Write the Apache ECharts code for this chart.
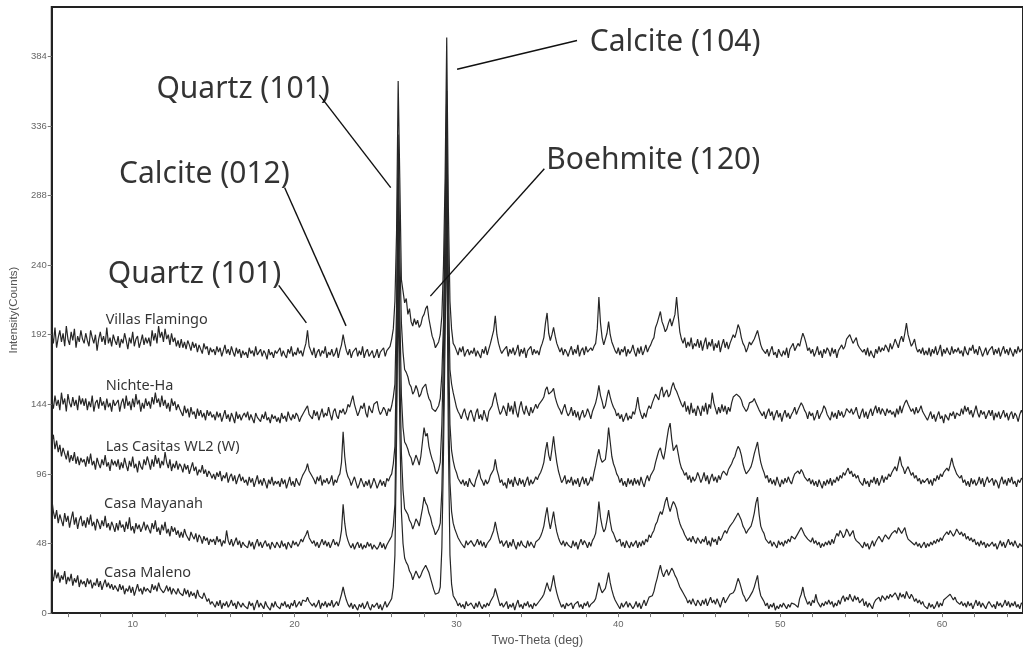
<!DOCTYPE html>
<html>
<head>
<meta charset="utf-8">
<script src="https://cdn.jsdelivr.net/npm/echarts@6/dist/echarts.min.js"></script>
<style>
  html, body { margin: 0; padding: 0; background: #fff; }
  #chart { width: 1023px; height: 652px; }
</style>
</head>
<body>
<div id="chart"></div>
<script>
// Scan grid: 2-theta from 5 to 65 deg in 0.1 deg steps (601 points per pattern)
const scanStart = 5;
const scanStep = 0.1;
const scanPoints = 601;

const sampleNames = ['Villas Flamingo', 'Nichte-Ha', 'Las Casitas WL2 (W)', 'Casa Mayanah', 'Casa Maleno'];

// Intensities (counts) as plotted in the stack, one row per 2 deg
const villasFlamingo = [
  192,186,197,183,190,195,187,193,184,198,189,185,194,188,196,183,191,187,195,189,
  186,193,188,184,195,190,186,192,181,189,194,187,191,185,197,186,190,184,192,188,
  185,191,183,189,186,193,188,182,190,186,194,184,189,191,183,187,192,185,190,186,
  190,184,195,188,193,186,198,190,194,187,196,189,192,185,193,187,190,184,188,183,
  189,183,187,182,188,185,181,187,183,186,180,185,184,179,186,182,184,178,183,180,
  182,178,184,180,183,177,181,185,179,182,178,184,180,177,183,179,182,176,181,178,
  180,176,183,179,181,177,184,178,180,182,177,181,179,175,182,178,180,176,181,179,
  179,183,177,181,178,176,182,179,184,177,180,178,183,179,181,177,182,186,195,184,
  181,178,183,176,180,182,177,181,179,184,176,180,178,182,177,179,183,176,181,185,
  192,186,181,178,182,176,180,179,183,177,181,178,184,176,180,182,177,179,181,176,
  178,182,176,180,179,183,177,181,180,184,189,196,215,262,367,300,230,222,214,217,
  206,210,201,198,203,199,202,197,199,204,206,210,212,203,197,191,188,183,185,187,
  192,205,240,300,397,280,215,196,186,184,181,178,183,180,184,177,180,182,178,181,
  179,183,177,181,180,176,182,179,184,178,182,186,187,195,205,192,186,182,179,181,
  180,184,177,182,179,183,178,181,185,177,182,179,183,176,181,180,184,178,182,179,
  181,178,183,186,190,200,207,193,188,192,197,191,186,183,180,183,178,182,180,177,
  181,184,178,182,179,185,177,181,183,178,184,180,179,183,181,184,186,196,218,200,
  190,185,186,193,201,192,187,184,181,179,183,178,182,180,184,177,182,179,181,185,
  180,177,183,179,184,178,181,185,180,183,185,188,190,197,200,204,208,201,198,194,
  196,200,203,198,199,206,218,205,194,189,186,190,183,187,184,190,182,186,184,189,
  183,188,181,186,190,182,187,184,189,181,186,183,188,180,185,189,183,187,182,186,
  186,192,190,194,199,196,190,186,184,180,183,187,185,186,189,192,195,190,185,182,
  183,179,182,177,181,184,178,180,176,182,179,177,181,178,183,176,182,184,186,181,
  182,186,184,189,193,190,186,181,183,179,182,177,180,184,178,181,176,182,179,183,
  181,177,183,179,182,176,181,183,185,182,184,189,188,192,191,186,188,190,185,183,
  184,180,182,178,183,177,181,178,176,182,179,184,180,183,181,185,183,180,186,182,
  185,189,186,183,188,191,187,193,200,192,188,184,186,189,183,180,182,179,183,178,
  181,178,183,177,182,179,184,178,181,185,177,182,179,183,180,178,184,179,182,180,
  183,179,181,177,184,180,178,183,181,185,179,182,178,184,181,177,180,183,178,181,
  180,184,178,182,179,183,177,181,184,179,182,178,183,180,177,182,179,184,180,182,
  181
];

const nichteHa = [
  146,141,150,143,147,140,152,144,148,139,151,145,142,149,143,147,140,150,144,148,
  143,148,140,146,142,150,139,145,147,141,149,143,146,140,148,142,145,139,147,143,
  142,147,139,145,148,141,150,143,146,140,148,142,151,144,147,139,145,141,148,143,
  146,141,149,144,152,145,148,142,150,143,147,141,145,139,148,143,146,140,144,141,
  140,136,143,138,141,135,142,137,139,134,141,136,140,135,138,133,140,136,139,135,
  137,133,139,135,138,132,136,140,134,137,132,138,135,131,139,134,137,133,136,138,
  135,139,133,137,134,131,138,135,136,132,137,134,139,133,135,131,137,134,136,132,
  135,131,138,134,136,132,139,135,133,137,134,138,136,132,135,137,139,141,143,137,
  138,134,140,136,139,133,137,141,135,138,136,142,137,133,139,141,136,134,140,138,
  141,137,139,144,142,146,150,144,140,136,139,143,141,145,138,135,143,140,138,144,
  143,146,140,137,139,142,140,136,141,139,143,149,158,210,330,250,200,180,168,166,
  163,158,156,151,153,157,154,149,151,155,156,158,152,148,146,141,142,139,140,143,
  148,165,200,270,360,230,168,158,152,147,142,139,137,134,138,141,136,133,138,140,
  136,132,138,141,134,137,133,140,136,132,139,141,143,148,152,146,141,137,139,143,
  140,136,145,139,143,137,146,139,135,142,146,140,137,143,139,136,142,138,141,144,
  141,144,145,147,149,154,156,151,150,153,155,149,145,142,140,137,141,144,139,136,
  138,142,136,140,135,139,133,137,140,135,137,141,138,134,139,142,145,150,157,150,
  146,141,143,149,154,149,145,142,140,136,138,134,137,132,135,138,133,136,134,139,
  137,142,149,141,137,134,138,135,140,143,141,145,146,151,150,147,153,156,149,152,
  154,149,151,156,159,155,153,150,147,144,142,146,139,143,137,145,138,141,136,143,
  140,136,143,139,145,137,144,141,152,145,141,137,142,138,144,139,143,137,142,139,
  145,149,148,151,152,149,147,143,143,139,141,145,144,146,148,145,144,140,140,136,
  139,134,138,141,136,139,133,137,140,135,138,132,137,140,135,138,134,137,139,142,
  137,140,141,145,143,140,138,134,139,136,138,133,136,140,134,137,139,143,141,137,
  137,133,139,135,138,134,140,136,139,135,137,141,140,138,141,137,139,142,137,134,
  138,141,135,139,134,138,141,136,140,143,138,142,137,141,139,136,141,138,140,137,
  139,135,141,137,143,138,142,145,147,144,143,139,141,137,142,138,140,143,139,137,
  137,133,136,139,134,137,132,136,139,134,136,131,137,135,133,138,136,139,134,138,
  139,136,141,137,143,139,142,137,140,135,139,143,138,135,140,137,139,134,137,140,
  136,140,133,138,135,139,134,137,140,135,138,133,137,139,134,138,136,132,137,140,
  137
];

const lasCasitas = [
  118,123,113,119,111,116,108,114,110,106,112,104,109,105,111,103,108,102,107,104,
  106,101,108,103,110,102,105,99,107,103,100,106,102,109,101,104,98,106,102,105,
  101,106,99,104,100,107,102,98,105,101,108,100,103,97,105,101,99,106,102,108,
  104,99,106,101,109,103,107,100,105,102,111,104,100,106,98,103,100,105,99,103,
  101,97,103,99,102,96,100,104,98,101,95,99,97,102,96,99,94,98,96,93,
  96,92,97,94,98,91,95,93,97,90,94,96,91,95,89,93,96,91,94,90,
  92,88,94,90,93,87,91,95,89,92,88,93,90,86,92,89,94,88,91,89,
  91,87,93,89,92,86,90,94,88,91,87,93,90,88,92,95,97,99,103,98,
  97,94,92,89,94,91,95,88,92,90,93,89,91,95,88,92,90,94,96,104,
  125,108,98,94,92,88,91,94,90,86,89,93,90,87,91,88,92,86,89,93,
  90,86,89,92,88,91,87,93,91,94,96,103,115,180,300,210,150,128,118,116,
  113,109,107,102,105,109,106,102,108,118,128,122,124,115,110,106,103,98,96,99,
  104,130,180,260,340,190,130,112,105,100,97,93,94,89,92,88,91,87,93,90,
  90,87,92,95,99,93,91,88,92,89,91,95,94,99,106,99,95,90,92,88,
  90,86,93,89,92,87,94,90,88,93,89,92,87,91,94,88,92,89,91,94,
  92,95,97,100,104,112,118,109,105,113,122,112,104,98,94,90,92,95,89,92,
  90,94,88,92,89,93,87,91,94,89,93,88,90,94,91,97,102,108,113,107,
  104,103,106,115,128,118,108,103,100,96,94,90,93,88,91,87,93,89,92,88,
  93,89,92,88,94,90,87,92,95,91,95,97,99,104,108,112,114,109,106,112,
  120,127,131,120,112,114,116,110,104,100,98,95,97,92,95,90,94,91,93,97,
  94,90,93,97,91,95,89,93,96,91,94,90,95,92,96,98,97,95,99,101,
  103,106,108,112,115,113,109,103,99,96,97,99,101,105,110,114,118,110,104,100,
  97,93,95,90,93,89,92,88,94,90,87,92,89,93,90,94,91,89,93,96,
  95,98,96,99,97,94,95,91,93,89,92,88,91,87,92,89,86,91,88,92,
  89,93,88,92,90,94,91,95,93,97,95,98,100,96,98,94,96,93,95,91,
  92,88,93,89,91,87,92,90,94,89,93,88,91,95,90,94,92,96,94,97,
  97,101,98,103,108,102,100,96,99,101,98,95,97,93,95,91,93,89,92,90,
  90,93,89,92,88,93,91,95,92,96,94,97,96,100,98,102,107,102,99,96,
  97,93,95,90,92,88,91,87,93,89,92,88,90,94,89,93,87,91,94,90,
  89,93,88,92,90,86,91,94,89,92,88,93,90,94,89,91,87,92,90,93,
  92
];

const casaMayanah = [
  79,70,65,71,62,68,64,60,69,63,67,59,65,70,61,66,58,64,67,60,
  64,59,66,61,68,60,63,57,65,62,58,64,60,67,59,62,57,63,60,56,
  62,57,64,59,61,56,63,58,66,57,60,55,62,58,61,56,59,63,57,61,
  60,55,62,58,64,56,59,54,61,57,63,55,58,53,60,56,59,54,57,52,
  56,52,58,54,55,50,56,53,51,55,49,54,52,48,53,50,52,47,51,49,
  51,47,53,49,51,46,50,48,57,50,47,51,46,49,52,47,50,45,49,47,
  48,45,50,46,49,44,48,51,46,49,45,48,50,46,48,44,49,47,45,49,
  48,45,50,46,48,44,49,47,45,50,47,49,46,48,51,49,52,54,57,52,
  51,48,50,46,49,45,48,51,47,50,46,49,45,48,51,47,49,46,50,57,
  75,62,54,50,47,45,48,44,47,49,45,48,44,47,45,49,46,48,44,47,
  47,44,46,49,45,48,44,47,49,51,53,60,75,150,270,170,110,85,72,70,
  68,64,62,58,61,65,63,60,66,72,80,76,74,69,66,61,58,54,55,58,
  62,85,140,220,305,160,90,70,62,58,55,52,51,48,49,45,50,47,46,50,
  49,46,48,51,47,50,46,49,45,48,49,51,52,57,63,57,52,48,50,46,
  47,50,45,49,46,51,47,44,49,46,50,47,48,45,50,46,49,47,45,49,
  48,51,53,56,60,67,73,64,58,64,70,62,56,52,49,47,50,46,49,47,
  48,45,50,46,49,44,48,51,47,50,48,45,49,46,50,52,55,64,77,66,
  60,56,58,64,71,63,57,55,52,49,48,51,46,49,45,50,47,45,49,46,
  47,50,45,49,46,50,47,51,49,54,52,55,57,61,63,67,70,68,72,77,
  80,74,70,74,77,75,72,66,62,59,57,54,53,50,52,49,53,50,48,52,
  52,48,51,49,53,47,50,46,52,49,51,47,53,50,52,55,57,55,58,60,
  61,63,64,67,69,68,64,60,58,55,57,58,60,64,69,76,80,68,60,57,
  55,51,52,48,50,46,49,47,45,50,47,49,46,50,48,51,49,53,53,51,
  52,55,56,59,58,54,55,51,52,49,52,48,50,47,49,45,48,46,49,47,
  50,47,51,48,52,55,53,57,55,52,54,58,56,53,55,57,52,50,51,48,
  48,45,49,46,48,44,47,50,46,49,50,53,51,49,52,54,53,51,52,55,
  54,57,55,59,58,55,57,59,54,51,52,49,50,47,49,46,48,45,47,49,
  45,48,46,49,47,50,48,51,49,52,50,53,52,56,54,57,56,53,55,58,
  57,54,56,53,55,51,53,50,52,49,51,47,49,46,50,47,49,45,48,46,
  45,49,46,48,44,47,50,46,49,45,48,51,47,49,46,50,47,45,48,46,
  48
];

const casaMaleno = [
  27,22,30,24,28,21,26,23,29,20,25,22,27,19,24,21,26,18,23,20,
  22,18,24,20,23,17,21,19,24,18,22,16,20,23,18,21,17,20,16,19,
  18,15,20,16,19,13,17,15,19,14,18,12,16,20,15,17,13,18,15,17,
  18,14,20,16,19,15,21,17,18,14,16,19,15,18,13,17,16,13,17,14,
  15,12,17,13,16,11,15,12,14,10,16,12,13,10,14,11,8,10,6,8,
  7,4,8,5,9,3,7,5,8,4,6,9,5,7,3,8,6,4,7,5,
  6,3,8,5,7,2,6,9,4,7,5,3,8,5,6,2,7,4,8,5,
  6,3,7,5,8,4,6,3,7,5,9,4,6,8,5,9,9,8,11,8,
  8,5,7,4,6,9,3,7,5,8,4,7,5,9,4,6,8,5,9,13,
  18,13,9,6,4,7,3,6,5,2,6,4,7,3,5,8,4,2,6,4,
  4,7,3,6,2,5,8,4,6,8,10,18,40,120,230,130,70,48,38,35,
  33,29,27,23,26,29,28,24,26,29,30,33,33,28,24,20,16,13,12,14,
  18,45,110,190,270,120,40,20,12,10,8,5,7,4,6,3,8,5,4,7,
  6,3,7,4,8,5,3,6,4,7,5,8,8,12,17,13,9,5,7,4,
  5,8,3,6,4,7,2,6,9,4,6,3,7,5,8,4,6,3,7,5,
  6,8,9,11,13,17,21,17,15,20,26,19,14,10,7,4,6,3,7,5,
  4,7,3,6,5,8,4,6,3,7,5,8,4,6,7,8,10,15,21,17,
  14,13,17,22,28,21,16,12,9,7,6,3,7,4,6,8,4,7,5,3,
  5,8,4,7,3,6,9,5,8,11,10,12,15,20,24,29,33,28,25,28,
  30,26,27,31,29,26,24,21,18,16,14,12,10,7,9,6,10,7,5,9,
  8,5,9,6,10,5,8,11,7,9,6,10,7,4,8,11,7,9,10,13,
  12,14,16,20,24,21,17,13,11,8,9,11,12,15,18,22,26,17,12,10,
  8,5,7,3,6,4,7,2,5,3,6,4,7,5,3,6,4,7,8,6,
  7,4,10,13,18,12,9,6,8,5,9,7,13,8,6,4,7,5,8,6,
  9,6,8,4,7,5,9,6,10,12,8,11,9,13,10,8,12,9,11,7,
  7,10,5,8,4,7,5,3,7,9,8,11,8,12,11,9,12,10,13,11,
  11,14,12,9,14,11,13,10,15,12,10,13,11,8,10,7,9,6,8,5,
  6,3,7,4,6,3,5,8,4,7,5,9,8,11,10,13,12,9,11,8,
  9,6,8,5,7,4,8,5,7,3,6,9,5,8,4,7,5,3,6,8,
  7,4,6,3,8,5,7,4,6,9,5,8,4,7,5,8,4,6,3,7,
  6
];

const patterns = [villasFlamingo, nichteHa, lasCasitas, casaMayanah, casaMaleno];
patterns.forEach((p, k) => {
  if (p.length !== scanPoints) throw new Error(sampleNames[k] + ' has ' + p.length + ' points');
});

// Axis ticks and labels
const yTickValues = [0, 48, 96, 144, 192, 240, 288, 336, 384];
const xLabelValues = [10, 20, 30, 40, 50, 60];
const xTickValues = [6,8,10,12,14,16,18,20,22,24,26,28,30,32,34,36,38,40,42,44,46,48,50,52,54,56,58,60,62,64];

// Sample name anchors (left edge of text), in [2-theta, counts]
const sampleLabelAnchors = [[8.3, 202.0], [8.3, 157.0], [8.3, 114.5], [8.2, 75.3], [8.2, 27.6]];

// Reflection annotations: text centre and leader line ends, in [2-theta, counts]
const peakNames = ['Quartz (101)', 'Calcite (012)', 'Quartz (101)', 'Calcite (104)', 'Boehmite (120)'];
const peakLabelAt = [[13.82, 233.8], [14.43, 302.6], [16.82, 361.2], [43.51, 393.8], [42.16, 312.1]];
const leaderFrom = [[19.02, 226.0], [19.39, 293.4], [21.53, 357.4], [37.45, 394.9], [35.43, 306.4]];
const leaderTo   = [[20.73, 200.2], [23.18, 198.1], [25.94, 293.4], [30.04, 375.1], [28.39, 218.6]];

const twoTheta = Array.from({ length: scanPoints }, (_, i) => +(scanStart + i * scanStep).toFixed(1));

const chart = echarts.init(document.getElementById('chart'), null, { renderer: 'canvas' });

const patternSeries = patterns.map((vals, k) => ({
  name: sampleNames[k],
  type: 'line',
  data: vals.map((v, i) => [twoTheta[i], v]),
  showSymbol: false,
  symbol: 'none',
  lineStyle: { color: '#262626', width: 1.2 },
  z: 2,
  silent: true
}));

const option = {
  animation: false,
  backgroundColor: '#fff',
  grid: {
    left: 48, right: -5, top: 7, bottom: 31,
    show: true, borderColor: '#222', borderWidth: 2
  },
  xAxis: {
    type: 'value',
    min: 5, max: 65,
    name: 'Two-Theta (deg)',
    nameLocation: 'middle',
    nameGap: 14,
    nameTextStyle: { fontFamily: 'Liberation Sans', fontSize: 12.5, color: '#555' },
    axisLine: { show: true, lineStyle: { color: '#222', width: 2 } },
    axisTick: { show: true, customValues: xTickValues, length: 4, lineStyle: { color: '#777', width: 1 } },
    axisLabel: { customValues: xLabelValues, fontFamily: 'Liberation Sans', fontSize: 9.5, color: '#666', margin: 6 },
    splitLine: { show: false }
  },
  yAxis: {
    type: 'value',
    min: 0, max: 418,
    name: 'Intensity(Counts)',
    nameLocation: 'middle',
    nameGap: 24,
    nameTextStyle: { fontFamily: 'Liberation Sans', fontSize: 11.5, color: '#555' },
    axisLine: { show: true, lineStyle: { color: '#222', width: 2 } },
    axisTick: { show: true, customValues: yTickValues, length: 4, lineStyle: { color: '#777', width: 1 } },
    axisLabel: { customValues: yTickValues, fontFamily: 'Liberation Sans', fontSize: 9.5, color: '#666', margin: 5 },
    splitLine: { show: false }
  },
  series: [
    ...patternSeries,
    {
      type: 'lines',
      coordinateSystem: 'cartesian2d',
      polyline: false,
      symbol: 'none',
      lineStyle: { color: '#111', width: 1.4, opacity: 1 },
      data: leaderFrom.map((p, i) => ({ coords: [p, leaderTo[i]] })),
      z: 3,
      silent: true
    },
    {
      type: 'scatter',
      symbolSize: 1,
      itemStyle: { color: 'rgba(0,0,0,0)' },
      data: peakLabelAt.map((p, i) => ({ value: p, name: peakNames[i] })),
      label: {
        show: true, position: 'inside', formatter: '{b}',
        fontFamily: 'Noto Sans', fontSize: 30, color: '#000'
      },
      z: 4,
      silent: true
    },
    {
      type: 'scatter',
      symbolSize: 1,
      itemStyle: { color: 'rgba(0,0,0,0)' },
      data: sampleLabelAnchors.map((p, i) => ({ value: p, name: sampleNames[i] })),
      label: {
        show: true, position: 'right', distance: 0, formatter: '{b}',
        fontFamily: 'Noto Sans', fontSize: 14.5, color: '#000'
      },
      z: 4,
      silent: true
    }
  ]
};

chart.setOption(option);
</script>
</body>
</html>
